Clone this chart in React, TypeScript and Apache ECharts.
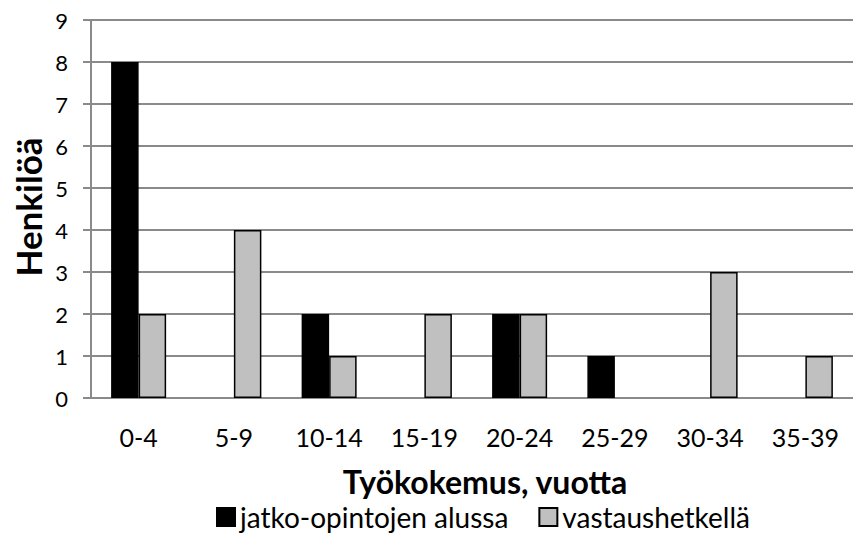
import React, { useEffect, useRef } from "react";
import * as echarts from "echarts";

const categories = ["0-4", "5-9", "10-14", "15-19", "20-24", "25-29", "30-34", "35-39"];
const seriesNames = ["jatko-opintojen alussa", "vastaushetkellä"];
const alussa = [8, 0, 2, 0, 2, 1, 0, 0];
const vastaushetkella = [2, 4, 1, 2, 2, 0, 3, 1];
const xTitle = "Työkokemus, vuotta";
const yTitle = "Henkilöä";

const FONT = "Lato";
const GRID_COLOR = "#8a8a8a";

// zero-valued bars are not drawn in the reference
const hideZero = (arr: number[]) => arr.map((v) => (v === 0 ? "-" : v));

export default function App() {
  const ref = useRef<HTMLDivElement>(null);
  useEffect(() => {
    if (!ref.current) return;
    const chart = echarts.init(ref.current, null, { renderer: "svg" });
    chart.setOption({
      animation: false,
      backgroundColor: "#ffffff",
      textStyle: { fontFamily: FONT },
      grid: { left: 91, right: -6, top: 20, bottom: 135, containLabel: false },
      legend: {
        data: seriesNames,
        left: 216,
        top: 503,
        padding: 0,
        icon: "rect",
        itemWidth: 18,
        itemHeight: 18,
        itemGap: 30,
        textStyle: { fontSize: 28, color: "#000", fontFamily: FONT },
      },
      xAxis: {
        type: "category",
        data: categories,
        axisLine: { show: true, lineStyle: { color: GRID_COLOR, width: 2 } },
        axisTick: { show: false },
        axisLabel: { fontSize: 25, color: "#000", margin: 26, fontFamily: FONT, interval: 0 },
        splitLine: { show: false },
      },
      yAxis: {
        type: "value",
        min: 0,
        max: 9,
        interval: 1,
        axisLine: { show: true, lineStyle: { color: GRID_COLOR, width: 2 } },
        axisTick: { show: true, inside: false, length: 8, lineStyle: { color: GRID_COLOR, width: 2 } },
        axisLabel: { fontSize: 22, color: "#000", margin: 23, fontFamily: FONT },
        splitLine: { show: true, lineStyle: { color: GRID_COLOR, width: 2 } },
      },
      graphic: [
        {
          type: "text",
          x: 485,
          y: 481,
          style: {
            text: xTitle,
            fontSize: 32,
            fontWeight: "bold",
            fontFamily: FONT,
            fill: "#000",
            align: "center",
            verticalAlign: "middle",
          },
        },
        {
          type: "text",
          x: 28,
          y: 207,
          rotation: Math.PI / 2,
          style: {
            text: yTitle,
            fontSize: 35,
            fontWeight: "bold",
            fontFamily: FONT,
            fill: "#000",
            align: "center",
            verticalAlign: "middle",
          },
        },
      ],
      series: [
        {
          name: seriesNames[0],
          type: "bar",
          data: hideZero(alussa),
          barWidth: 27.5,
          barGap: "0%",
          itemStyle: { color: "#000000", borderColor: "#000000", borderWidth: 1.5 },
        },
        {
          name: seriesNames[1],
          type: "bar",
          data: hideZero(vastaushetkella),
          barWidth: 27.5,
          barGap: "0%",
          itemStyle: { color: "#c0c0c0", borderColor: "#000000", borderWidth: 1.5 },
        },
      ],
    });
    return () => chart.dispose();
  }, []);
  return (
    <div
      ref={ref}
      style={{ position: "fixed", left: 0, top: 0, width: 853, height: 533 }}
    />
  );
}
